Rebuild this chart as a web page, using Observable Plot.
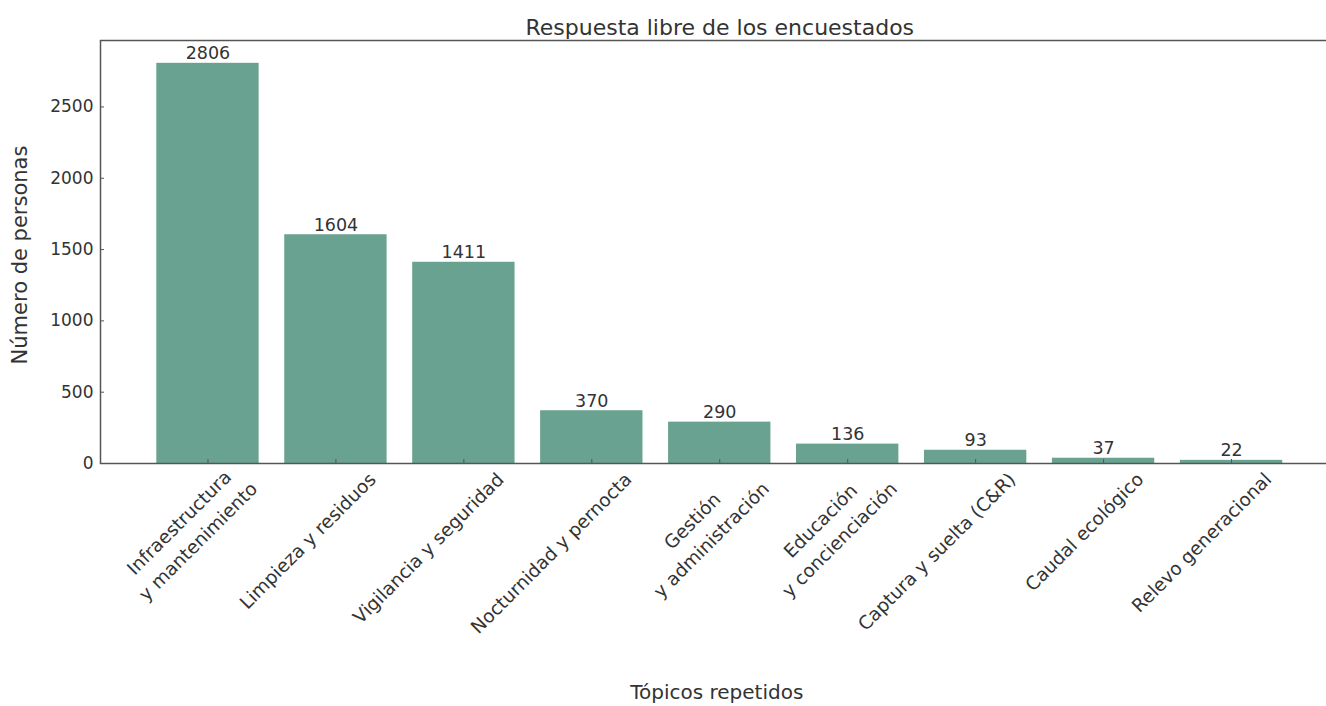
<!DOCTYPE html>
<html><head><meta charset="utf-8">
<script src="https://cdn.jsdelivr.net/npm/d3@7"></script>
<script src="https://cdn.jsdelivr.net/npm/@observablehq/plot@0.6"></script>
<style>
html,body{margin:0;padding:0;background:#fff;}
svg{display:block;}
</style></head><body>
<script>
const categories = [
  "Infraestructura\ny mantenimiento",
  "Limpieza y residuos",
  "Vigilancia y seguridad",
  "Nocturnidad y pernocta",
  "Gestión\ny administración",
  "Educación\ny concienciación",
  "Captura y suelta (C&R)",
  "Caudal ecológico",
  "Relevo generacional"
];
const counts = [2806, 1604, 1411, 370, 290, 136, 93, 37, 22];
const yTicks = [0, 500, 1000, 1500, 2000, 2500];
const title = "Respuesta libre de los encuestados";
const xTitle = "Tópicos repetidos";
const yTitle = "Número de personas";

const data = categories.map((c, i) => ({i, category: c, count: counts[i]}));
const idx = data.map(d => d.i);
const yMax = d3.max(counts) * 1.057;
const font = "'DejaVu Sans', sans-serif";
const ink = "#333";
const spine = "#555";

const chart = Plot.plot({
  width: 1326, height: 706,
  marginTop: 40, marginBottom: 243, marginLeft: 100, marginRight: -12.5,
  style: {fontFamily: font, color: ink, background: "#fff"},
  x: {domain: [-0.84, 8.84], label: null},
  y: {domain: [0, yMax], label: null},
  marks: [
    Plot.rectY(data, {x1: d => d.i - 0.4, x2: d => d.i + 0.4, y: "count", fill: "#6aa292"}),
    Plot.frame({stroke: spine, strokeWidth: 1.5}),
    Plot.axisY({ticks: yTicks, tickSize: 0, tickPadding: 7, fontSize: 17, tickFormat: d3.format("d"), label: null}),
    Plot.axisY({ticks: yTicks, tickSize: -4, tickFormat: () => "", stroke: spine, label: null}),
    Plot.axisX({ticks: idx, tickSize: -4, tickFormat: () => "", stroke: spine, label: null}),
    Plot.text(data, {x: "i", y: "count", text: d => String(d.count), lineAnchor: "bottom", dy: -4, fontSize: 17.5, fill: ink}),
    Plot.text(data, {x: "i", frameAnchor: "bottom", text: "category", textAnchor: "end", lineAnchor: "middle",
      rotate: -45, dx: 35, dy: 11, fontSize: 18.5, lineHeight: 1.45, fill: ink}),
    Plot.text([title], {text: d => d, frameAnchor: "top", dy: -13, lineAnchor: "middle", fontSize: 22, fill: ink}),
    Plot.text([xTitle], {text: d => d, frameAnchor: "bottom", dy: 229, dx: -3, lineAnchor: "middle", fontSize: 20, fill: ink}),
    Plot.text([yTitle], {text: d => d, frameAnchor: "left", dx: -80, dy: 3, rotate: -90, textAnchor: "middle", lineAnchor: "middle", fontSize: 21, fill: ink})
  ]
});
document.body.append(chart);
// centre the lines of the two-line tick labels (matplotlib multialignment)
chart.querySelectorAll("text").forEach(t => {
  const spans = [...t.querySelectorAll("tspan")];
  if (spans.length > 1) {
    const w = d3.max(spans, s => s.getComputedTextLength());
    t.setAttribute("text-anchor", "middle");
    spans.forEach(s => s.setAttribute("x", -w / 2));
  }
});
</script>
</body></html>
